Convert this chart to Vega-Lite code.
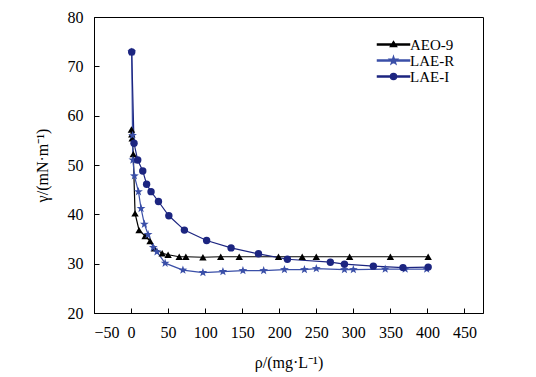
{
  "$schema": "https://vega.github.io/schema/vega-lite/v6.json",
  "width": 389,
  "height": 296,
  "autosize": {"type": "none"},
  "padding": {"left": 94, "top": 17, "right": 53, "bottom": 64},
  "background": "white",
  "config": {
    "font": "Liberation Serif",
    "view": {"stroke": "black", "strokeWidth": 1},
    "axis": {
      "grid": false,
      "domainColor": "black",
      "tickColor": "black",
      "labelColor": "black",
      "titleColor": "black",
      "labelFont": "Liberation Serif",
      "titleFont": "Liberation Serif",
      "labelFontSize": 16,
      "titleFontSize": 16,
      "titleFontWeight": "normal",
      "tickSize": -5,
      "labelPadding": 16
    },
    "legend": {
      "labelFont": "Liberation Serif"
    }
  },
  "data": {
    "values": [
      {"series": "AEO-9", "x": 0.5, "y": 57.2},
      {"series": "AEO-9", "x": 1, "y": 56.2},
      {"series": "AEO-9", "x": 1.5, "y": 55.4},
      {"series": "AEO-9", "x": 3, "y": 52.2},
      {"series": "AEO-9", "x": 5.4, "y": 40.2},
      {"series": "AEO-9", "x": 10.8, "y": 36.8},
      {"series": "AEO-9", "x": 19, "y": 35.6},
      {"series": "AEO-9", "x": 25.7, "y": 34.6},
      {"series": "AEO-9", "x": 31.5, "y": 33.1},
      {"series": "AEO-9", "x": 42, "y": 32.1},
      {"series": "AEO-9", "x": 50, "y": 31.8},
      {"series": "AEO-9", "x": 65, "y": 31.4},
      {"series": "AEO-9", "x": 74, "y": 31.4},
      {"series": "AEO-9", "x": 97, "y": 31.3},
      {"series": "AEO-9", "x": 121, "y": 31.4},
      {"series": "AEO-9", "x": 146, "y": 31.4},
      {"series": "AEO-9", "x": 199, "y": 31.4},
      {"series": "AEO-9", "x": 231, "y": 31.4},
      {"series": "AEO-9", "x": 250, "y": 31.4},
      {"series": "AEO-9", "x": 295, "y": 31.4},
      {"series": "AEO-9", "x": 350, "y": 31.4},
      {"series": "AEO-9", "x": 401, "y": 31.4},
      {"series": "LAE-R", "x": 0.9, "y": 72.9},
      {"series": "LAE-R", "x": 2, "y": 56},
      {"series": "LAE-R", "x": 2.5, "y": 51},
      {"series": "LAE-R", "x": 4.5, "y": 47.8},
      {"series": "LAE-R", "x": 10, "y": 44.6},
      {"series": "LAE-R", "x": 13.5, "y": 41.2},
      {"series": "LAE-R", "x": 18, "y": 38},
      {"series": "LAE-R", "x": 23, "y": 35.9},
      {"series": "LAE-R", "x": 30, "y": 33.3},
      {"series": "LAE-R", "x": 35, "y": 32.4},
      {"series": "LAE-R", "x": 46, "y": 30.1},
      {"series": "LAE-R", "x": 70, "y": 28.7},
      {"series": "LAE-R", "x": 97, "y": 28.2},
      {"series": "LAE-R", "x": 124, "y": 28.4},
      {"series": "LAE-R", "x": 151, "y": 28.6},
      {"series": "LAE-R", "x": 179, "y": 28.6},
      {"series": "LAE-R", "x": 207, "y": 28.8},
      {"series": "LAE-R", "x": 234, "y": 28.8},
      {"series": "LAE-R", "x": 250, "y": 29.0},
      {"series": "LAE-R", "x": 288, "y": 28.8},
      {"series": "LAE-R", "x": 300, "y": 28.8},
      {"series": "LAE-R", "x": 343, "y": 28.9},
      {"series": "LAE-R", "x": 370, "y": 28.9},
      {"series": "LAE-R", "x": 399, "y": 28.9},
      {"series": "LAE-I", "x": 0.9, "y": 72.9},
      {"series": "LAE-I", "x": 4, "y": 54.4},
      {"series": "LAE-I", "x": 9, "y": 51},
      {"series": "LAE-I", "x": 15.8, "y": 48.8},
      {"series": "LAE-I", "x": 21, "y": 46.1},
      {"series": "LAE-I", "x": 27, "y": 44.6},
      {"series": "LAE-I", "x": 37, "y": 42.6},
      {"series": "LAE-I", "x": 51, "y": 39.7},
      {"series": "LAE-I", "x": 72, "y": 36.8},
      {"series": "LAE-I", "x": 102, "y": 34.7},
      {"series": "LAE-I", "x": 135, "y": 33.2},
      {"series": "LAE-I", "x": 172, "y": 32.0},
      {"series": "LAE-I", "x": 211, "y": 30.9},
      {"series": "LAE-I", "x": 269, "y": 30.3},
      {"series": "LAE-I", "x": 288, "y": 29.9},
      {"series": "LAE-I", "x": 327, "y": 29.5},
      {"series": "LAE-I", "x": 367, "y": 29.2},
      {"series": "LAE-I", "x": 401, "y": 29.3}
    ]
  },
  "encoding": {
    "x": {
      "field": "x", "type": "quantitative",
      "scale": {"domain": [-50, 475], "nice": false, "zero": false},
      "axis": {"values": [-50, 0, 50, 100, 150, 200, 250, 300, 350, 400, 450], "title": "ρ/(mg·L⁻¹)", "titlePadding": 14}
    },
    "y": {
      "field": "y", "type": "quantitative",
      "scale": {"domain": [20, 80], "nice": false, "zero": false},
      "axis": {"values": [20, 30, 40, 50, 60, 70, 80], "title": "γ/(mN·m⁻¹)", "titlePadding": 17}
    },
    "color": {
      "field": "series", "type": "nominal",
      "scale": {"domain": ["AEO-9", "LAE-R", "LAE-I"], "range": ["#000000", "#3a4fa8", "#1c2580"]},
      "legend": {
        "title": null,
        "orient": "none",
        "legendX": 292,
        "legendY": 20,
        "symbolSize": 64,
        "labelFontSize": 15,
        "labelFont": "Liberation Serif",
        "labelColor": "black",
        "labelOffset": 9,
        "rowPadding": -8,
        "symbolOpacity": 1
      }
    }
  },
  "layer": [
    {
      "mark": {"type": "line", "strokeWidth": 1.2},
      "encoding": {}
    },
    {
      "transform": [{"filter": "datum.series === 'AEO-9'"}],
      "mark": {"type": "point", "filled": true, "size": 55, "opacity": 1, "shape": "triangle-up"}
    },
    {
      "transform": [{"filter": "datum.series === 'LAE-R'"}],
      "mark": {"type": "point", "filled": true, "size": 55, "opacity": 1, "shape": "M0,-1.25L0.29,-0.4L1.19,-0.39L0.48,0.15L0.73,1.01L0,0.5L-0.73,1.01L-0.48,0.15L-1.19,-0.39L-0.29,-0.4Z"}
    },
    {
      "transform": [{"filter": "datum.series === 'LAE-I'"}],
      "mark": {"type": "point", "filled": true, "size": 55, "opacity": 1, "shape": "circle"}
    },
    {
      "mark": {"type": "point", "filled": true, "size": 64, "opacity": 0},
      "encoding": {
        "shape": {
          "field": "series", "type": "nominal",
          "scale": {"domain": ["AEO-9", "LAE-R", "LAE-I"], "range": ["M-4,-0.13H4V0.13H-4ZM0,-0.7L0.75,0.5L-0.75,0.5Z", "M-4,-0.13H4V0.13H-4ZM0,-0.95L0.22,-0.3L0.9,-0.3L0.36,0.11L0.56,0.77L0,0.38L-0.56,0.77L-0.36,0.11L-0.9,-0.3L-0.22,-0.3Z", "M-4,-0.13H4V0.13H-4ZM0.75,0A0.75,0.75 0 1,1 -0.75,0A0.75,0.75 0 1,1 0.75,0Z"]},
          "legend": {
            "title": null,
            "orient": "none",
            "legendX": 292,
            "legendY": 20,
            "symbolSize": 64,
            "labelFontSize": 15,
            "labelFont": "Liberation Serif",
            "labelColor": "black",
            "labelOffset": 9,
            "rowPadding": -8,
            "symbolOpacity": 1
          }
        }
      }
    }
  ]
}
